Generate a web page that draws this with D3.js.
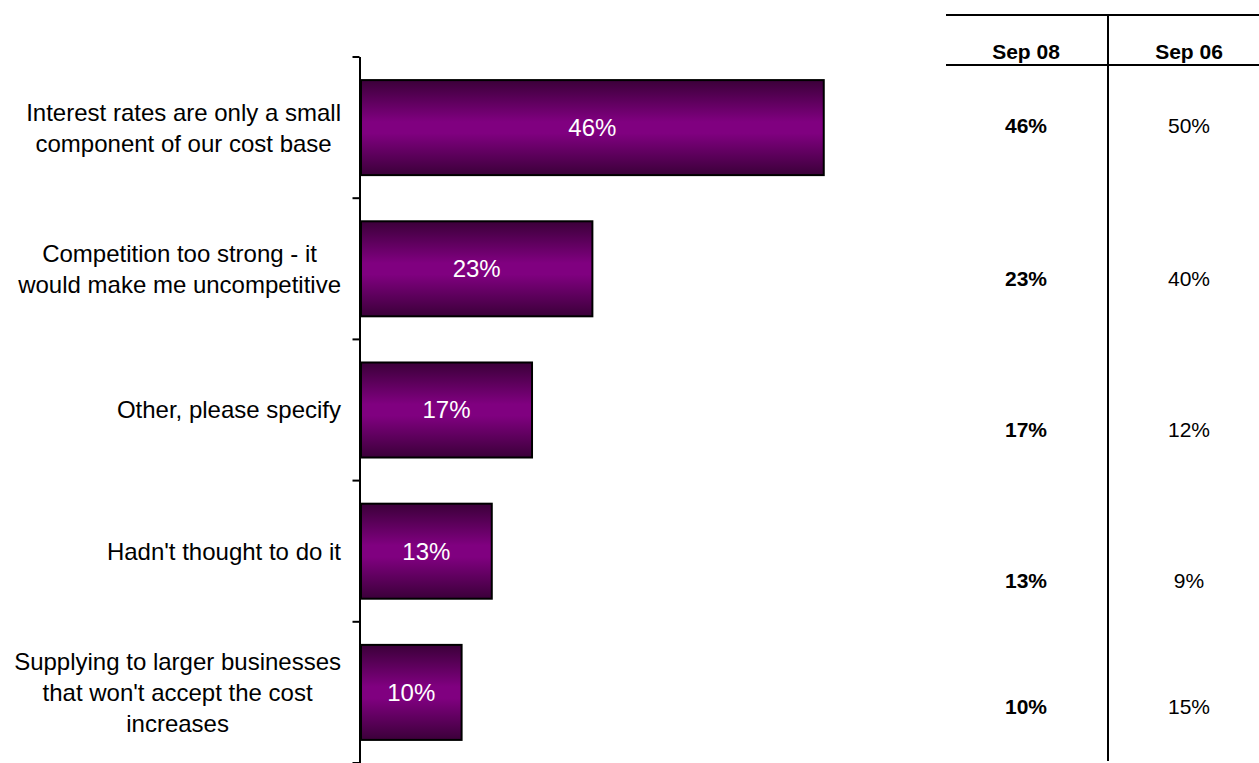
<!DOCTYPE html>
<html>
<head>
<meta charset="utf-8">
<script src="https://cdn.jsdelivr.net/npm/d3@7/dist/d3.min.js"></script>
<style>
  html, body { margin: 0; padding: 0; background: #fff; }
  svg { display: block; font-family: "Liberation Sans", Arial, sans-serif; }
</style>
</head>
<body>
<svg id="chart" width="1259" height="763"></svg>
<script>
// Reasons given (one line per array entry)
const categories = [
  ["Interest rates are only a small", "component of our cost base"],
  ["Competition too strong - it", "would make me uncompetitive"],
  ["Other, please specify"],
  ["Hadn't thought to do it"],
  ["Supplying to larger businesses", "that won't accept the cost", "increases"]
];
const sep08 = [0.46, 0.23, 0.17, 0.13, 0.10];
const sep06 = [0.50, 0.40, 0.12, 0.09, 0.15];
const columnHeaders = ["Sep 08", "Sep 06"];

// Layout
const W = 1259, H = 763;
const axisX = 360, barLeft = 361;
const plotTop = 57, plotBottom = 763;
const tableRowBaselines = [133, 286, 437, 588, 714];

const svg = d3.select("#chart");
const ids = categories.map((_, i) => i);
const pct = d3.format(".0%");

const x = d3.scaleLinear().domain([0, 0.5]).range([barLeft, 864]);
const y = d3.scaleBand().domain(ids).range([plotTop, plotBottom])
  .paddingInner(0.327).paddingOuter(0.1635);

// Bar fill: dark edges, bright purple centre
const grad = svg.append("defs").append("linearGradient")
  .attr("id", "barFill").attr("x1", 0).attr("y1", 0).attr("x2", 0).attr("y2", 1);
[[0, "#3b0039"], [0.44, "#800080"], [0.56, "#800080"], [1, "#3b0039"]].forEach(([o, c]) =>
  grad.append("stop").attr("offset", o).attr("stop-color", c));

// Category axis: ticks on band boundaries (drawn first so bars sit over it)
const yEdge = d3.scaleLinear().domain([0, categories.length]).range([plotTop - 0.5, plotBottom - 0.5]);
const axisG = svg.append("g").attr("transform", `translate(${axisX - 0.5},0)`)
  .call(d3.axisLeft(yEdge).ticks(categories.length).tickSize(7).tickSizeOuter(0).tickFormat(""));
axisG.select(".domain").attr("stroke", "#000").attr("stroke-width", 2);
axisG.selectAll(".tick line").attr("stroke", "#000").attr("stroke-width", 2);

// Bars
svg.append("g").selectAll("rect").data(ids).join("rect")
  .attr("x", barLeft)
  .attr("y", d => y(d))
  .attr("width", d => x(sep08[d]) - barLeft)
  .attr("height", y.bandwidth())
  .attr("fill", "url(#barFill)")
  .attr("stroke", "#000")
  .attr("stroke-width", 2);

// Value labels inside bars
svg.append("g").selectAll("text").data(ids).join("text")
  .attr("x", d => (barLeft + x(sep08[d])) / 2)
  .attr("y", d => y(d) + y.bandwidth() / 2 + 8.4)
  .attr("text-anchor", "middle")
  .attr("fill", "#fff")
  .attr("font-size", 24)
  .text(d => pct(sep08[d]));

// Category labels: lines centred on each other, block right-aligned
const labelRight = 341, lineGap = 31;
const labels = svg.append("g").attr("font-size", 24).attr("fill", "#000");
ids.forEach(i => {
  const lines = categories[i];
  const g = labels.append("g");
  const cy = y(i) + y.bandwidth() / 2;
  const texts = g.selectAll("text").data(lines).join("text")
    .attr("y", (t, k) => cy + (k - (lines.length - 1) / 2) * lineGap + 8.4)
    .attr("text-anchor", "middle")
    .text(t => t);
  const maxW = d3.max(texts.nodes(), n => n.getComputedTextLength());
  texts.attr("x", labelRight - maxW / 2);
});

// Comparison table
const table = svg.append("g");
const col1 = 1026, col2 = 1189;
table.append("line").attr("x1", 946).attr("x2", W).attr("y1", 15).attr("y2", 15)
  .attr("stroke", "#000").attr("stroke-width", 2);
table.append("line").attr("x1", 946).attr("x2", W).attr("y1", 65).attr("y2", 65)
  .attr("stroke", "#000").attr("stroke-width", 2);
table.append("line").attr("x1", 1108).attr("x2", 1108).attr("y1", 15).attr("y2", 761)
  .attr("stroke", "#000").attr("stroke-width", 2);

table.selectAll("text.head").data(columnHeaders).join("text")
  .attr("class", "head")
  .attr("x", (d, i) => i === 0 ? col1 : col2)
  .attr("y", 59)
  .attr("text-anchor", "middle")
  .attr("font-size", 21)
  .attr("font-weight", "bold")
  .text(d => d);

table.selectAll("text.v08").data(ids).join("text")
  .attr("class", "v08")
  .attr("x", col1).attr("y", d => tableRowBaselines[d])
  .attr("text-anchor", "middle").attr("font-size", 21).attr("font-weight", "bold")
  .text(d => pct(sep08[d]));

table.selectAll("text.v06").data(ids).join("text")
  .attr("class", "v06")
  .attr("x", col2).attr("y", d => tableRowBaselines[d])
  .attr("text-anchor", "middle").attr("font-size", 21)
  .text(d => pct(sep06[d]));
</script>
</body>
</html>
